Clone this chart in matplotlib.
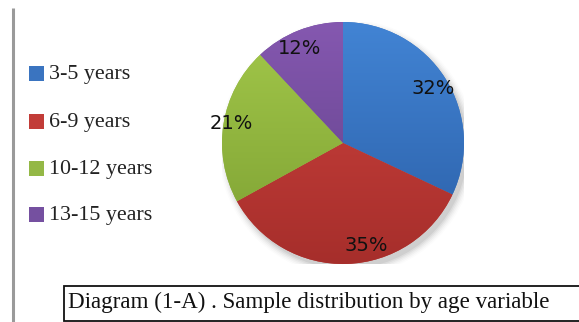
import numpy as np
import matplotlib
matplotlib.use("Agg")
import matplotlib.pyplot as plt
from matplotlib.colors import LinearSegmentedColormap
from matplotlib.patches import Rectangle

# Sample distribution by age group
categories = ["3-5 years", "6-9 years", "10-12 years", "13-15 years"]
shares = [32, 35, 21, 12]
caption = "Diagram (1-A) . Sample distribution by age variable"

# light (top) / dark (bottom) shade for each slice
top_colors = ["#4284d4", "#d0443f", "#a3c84a", "#8558b0"]
bottom_colors = ["#2a5ea6", "#a62e2b", "#7c9f32", "#5e3f86"]
legend_colors = ["#3a74c0", "#c23c38", "#94b846", "#7550a0"]

W, H = 579, 322
fig = plt.figure(figsize=(W / 100, H / 100), dpi=100)
fig.patch.set_facecolor("white")

# overlay axes in pixel units for frame line, legend and caption box
bg = fig.add_axes([0, 0, 1, 1])
bg.set_xlim(0, W)
bg.set_ylim(H, 0)
bg.axis("off")

# left frame line
bg.plot([12.5, 12.5], [8, H], color="#9a9a9a", lw=2.2, solid_capstyle="butt")

# legend
legend_y = [73, 121, 168, 214]
for name, col, y in zip(categories, legend_colors, legend_y):
    bg.add_patch(Rectangle((29, y - 7.5), 15, 15, facecolor=col, edgecolor="none"))
    bg.text(49, y + 1, name, fontsize=15.8, family="Liberation Serif",
            ha="left", va="center", color="#222222")

# caption box
bg.add_patch(Rectangle((63.5, 285.5), W, 35.5, facecolor="white",
                       edgecolor="#111111", lw=1.3))
bg.text(68, 302.5, caption, fontsize=16.6, family="Liberation Serif",
        ha="left", va="center", color="#111111")

# pie
cx, cy, r = 343, 143, 121
ax = fig.add_axes([(cx - r) / W, (H - cy - r) / H, 2 * r / W, 2 * r / H])

# soft shadow under the pie
for i, a in enumerate(np.linspace(0.05, 0.012, 6)):
    c = plt.Circle((0.03, -0.04), 1.0 + 0.012 * i, color="#000000",
                   alpha=a, lw=0, zorder=0)
    ax.add_patch(c)

wedges, texts, autotexts = ax.pie(
    shares, colors=legend_colors, startangle=90, counterclock=False,
    autopct=lambda p: f"{p:.0f}%", pctdistance=0.87,
    textprops=dict(fontsize=14, family="DejaVu Sans", color="#111111"),
    wedgeprops=dict(linewidth=0),
)

# vertical gradient fill clipped to each slice
grad = np.linspace(0, 1, 256).reshape(-1, 1)
for w, ct, cb in zip(wedges, top_colors, bottom_colors):
    cmap = LinearSegmentedColormap.from_list("g", [cb, ct])
    im = ax.imshow(grad, cmap=cmap, extent=(-1, 1, -1, 1), origin="lower",
                   aspect="auto", zorder=1.5, interpolation="bilinear")
    im.set_clip_path(w)

# label placement tweaks (radius, angle shift in degrees)
label_adjust = [(0.87, -1.5), (0.87, 11.0), (0.94, -1.0), (0.86, 3.0)]
theta = 90.0
for t, s, (rad, shift) in zip(autotexts, shares, label_adjust):
    span = 360.0 * s / sum(shares)
    mid = np.deg2rad(theta - span / 2 + shift)
    t.set_position((rad * np.cos(mid), rad * np.sin(mid)))
    t.set_zorder(3)
    theta -= span

ax.set_xlim(-1, 1)
ax.set_ylim(-1, 1)
ax.set_aspect("auto")
ax.axis("off")

fig.savefig("out.png", dpi=100, facecolor="white")
